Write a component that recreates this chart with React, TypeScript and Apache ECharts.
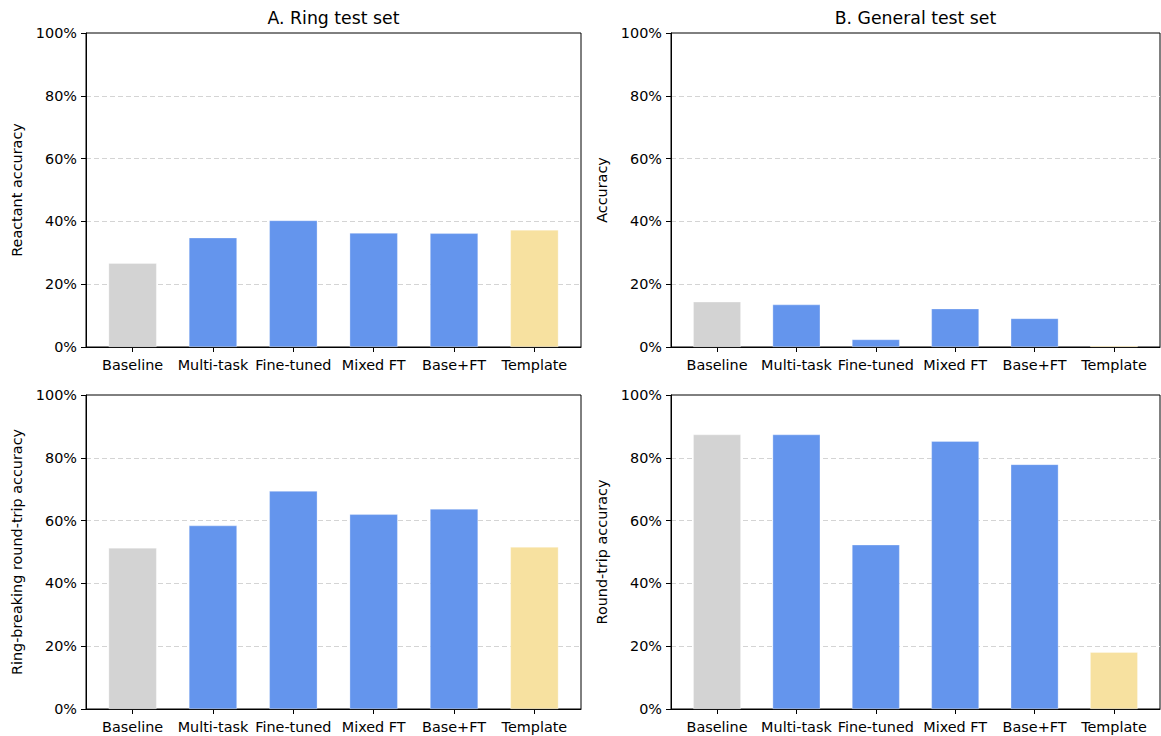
import React, { useEffect, useRef } from "react";
import * as echarts from "echarts";

const categories = ["Baseline", "Multi-task", "Fine-tuned", "Mixed FT", "Base+FT", "Template"];
const ringReactant = [0.267, 0.348, 0.403, 0.363, 0.362, 0.373];
const generalAccuracy = [0.144, 0.135, 0.024, 0.122, 0.091, 0.004];
const ringRoundTrip = [0.513, 0.584, 0.694, 0.62, 0.637, 0.516];
const generalRoundTrip = [0.874, 0.874, 0.523, 0.853, 0.779, 0.181];
const barColors = ["#d3d3d3", "#6495ed", "#6495ed", "#6495ed", "#6495ed", "#f7e1a0"];
const yTicks = [0, 0.2, 0.4, 0.6, 0.8, 1.0];
const panelTitles = ["A. Ring test set", "B. General test set"];
const yNames = ["Reactant accuracy", "Accuracy", "Ring-breaking round-trip accuracy", "Round-trip accuracy"];

const FONT = "DejaVu Sans";

export default function App() {
  const ref = useRef<HTMLDivElement>(null);
  useEffect(() => {
    if (!ref.current) return;
    const chart = echarts.init(ref.current, null, { renderer: "svg" });
    const grids = [
      { left: 86, top: 33, width: 495, height: 314 },
      { left: 671, top: 33, width: 489, height: 314 },
      { left: 86, top: 395, width: 495, height: 314 },
      { left: 671, top: 395, width: 489, height: 314 },
    ];
    const datasets = [ringReactant, generalAccuracy, ringRoundTrip, generalRoundTrip];
    const idx = categories.map((_, i) => i);
    const option: any = {
      animation: false,
      backgroundColor: "#fff",
      textStyle: { fontFamily: FONT },
      grid: grids.map((g) => ({
        ...g,
        show: true,
        borderColor: "#000",
        borderWidth: 1,
        backgroundColor: "transparent",
        containLabel: false,
      })),
      xAxis: grids.map((_, gi) => ({
        type: "value",
        gridIndex: gi,
        min: -0.58,
        max: 5.58,
        axisLine: { show: true, onZero: false, lineStyle: { color: "#000", width: 1 } },
        axisTick: { show: true, length: 5, lineStyle: { color: "#000" }, customValues: idx },
        axisLabel: {
          show: true,
          customValues: idx,
          formatter: (v: number) => categories[Math.round(v)] ?? "",
          color: "#000",
          fontSize: 14.4,
          fontFamily: FONT,
          margin: 11,
        },
        splitLine: { show: false },
      })),
      yAxis: grids.map((_, gi) => ({
        type: "value",
        gridIndex: gi,
        min: 0,
        max: 1,
        interval: 0.2,
        name: yNames[gi],
        nameLocation: "middle",
        nameGap: 62,
        nameTextStyle: { color: "#000", fontSize: 14.4, fontFamily: FONT },
        axisLine: { show: true, onZero: false, lineStyle: { color: "#000", width: 1 } },
        axisTick: { show: true, length: 5, lineStyle: { color: "#000" } },
        axisLabel: {
          color: "#000",
          fontSize: 14.4,
          fontFamily: FONT,
          margin: 9,
          formatter: (v: number) => (yTicks.some((t) => Math.abs(t - v) < 1e-6) ? Math.round(v * 100) + "%" : ""),
        },
        splitLine: {
          show: true,
          showMinLine: false,
          showMaxLine: false,
          lineStyle: { color: "#d4d4d4", type: [5, 3], width: 1 },
        },
      })),
      series: datasets.map((vals, gi) => ({
        type: "bar",
        xAxisIndex: gi,
        yAxisIndex: gi,
        barWidth: gi % 2 === 0 ? 48 : 47.6,
        data: vals.map((v, i) => ({
          value: [i, v],
          itemStyle: { color: barColors[i], borderColor: "rgba(255,255,255,0.6)", borderWidth: 0.5 },
        })),
      })),
      graphic: panelTitles.map((t, i) => ({
        type: "text",
        x: grids[i].left + grids[i].width / 2,
        y: 18,
        style: {
          text: t,
          textAlign: "center",
          textVerticalAlign: "middle",
          fontSize: 17.3,
          fontFamily: FONT,
          fill: "#000",
        },
      })),
    };
    chart.setOption(option);
    return () => chart.dispose();
  }, []);
  return (
    <div
      ref={ref}
      style={{ position: "fixed", left: 0, top: 0, width: 1161, height: 736, background: "#fff" }}
    />
  );
}
